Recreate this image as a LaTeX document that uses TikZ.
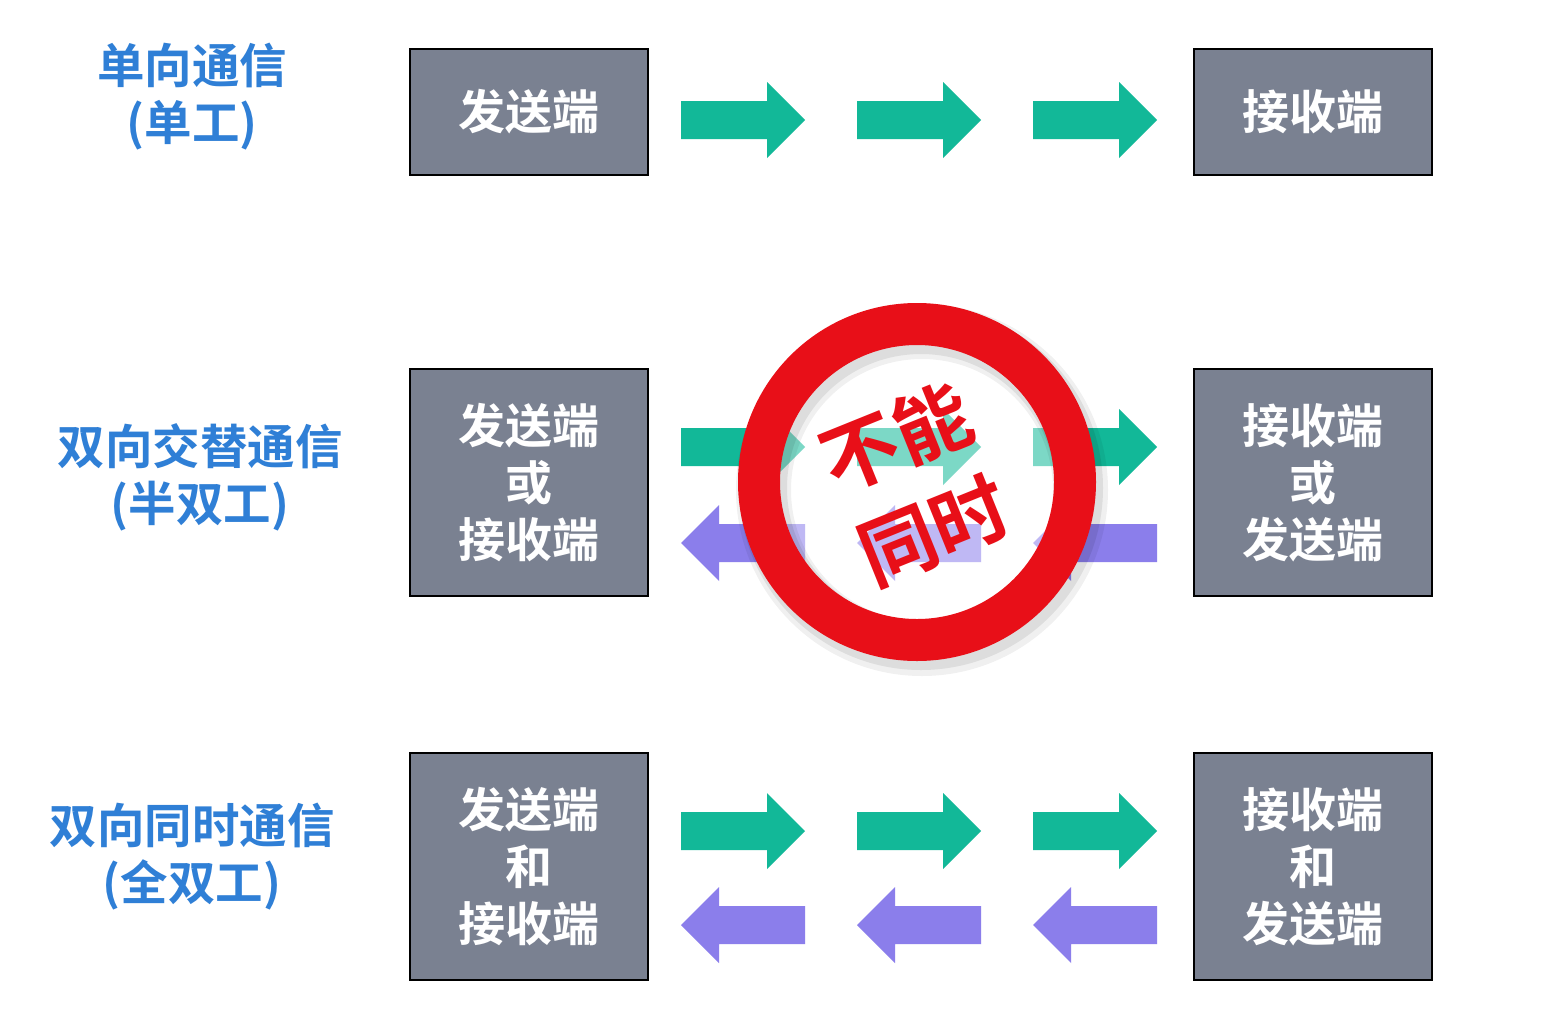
\documentclass[tikz,border=0pt]{standalone}
\usepackage{fontspec}
\newfontfamily\cjk[BoldFont={Noto Sans CJK SC Bold}]{Noto Sans CJK SC}
\definecolor{boxgray}{HTML}{7A8191}
\definecolor{arrgreen}{HTML}{12B898}
\definecolor{arrpurple}{HTML}{8B7EEB}
\definecolor{lblue}{HTML}{2F7FD6}
\definecolor{stopred}{HTML}{E80F18}
\newcommand\rarrow[2]{\fill[arrgreen] (#1,#2-19) -- ++(86,0) -- ++(0,-19) -- ++(38,38) -- ++(-38,38) -- ++(0,-19) -- ++(-86,0) -- cycle;}
\newcommand\larrow[2]{\fill[arrpurple] (#1,#2) -- ++(38,-38) -- ++(0,19) -- ++(86,0) -- ++(0,38) -- ++(-86,0) -- ++(0,19) -- cycle;}
\begin{document}
\begin{tikzpicture}[x=1pt,y=-1pt,
  termbox/.style={draw=black, line width=2.5pt, fill=boxgray, text=white, minimum width=238pt, inner sep=0pt,
    font=\cjk\bfseries\fontsize{47}{57}\selectfont, align=center},
  lbl/.style={text=lblue, inner sep=0pt, font=\cjk\bfseries\fontsize{47.5}{57}\selectfont, align=center},
  stoptext/.style={font=\cjk\bfseries\fontsize{77}{100}\selectfont, align=center, inner sep=0pt, rotate=22}]
\useasboundingbox[fill=white] (0,0) rectangle (1565,1020);

% labels
\node[lbl] (l1) at (192,97) {单向通信\\(单工)};
\node[lbl] (l2) at (200,477) {双向交替通信\\(半双工)};
\node[lbl] (l3) at (192,857) {双向同时通信\\(全双工)};

% boxes
\node[termbox, minimum height=126pt] (s1) at (529,112) {发送端};
\node[termbox, minimum height=126pt] (r1) at (1313,112) {接收端};
\node[termbox, minimum height=227pt] (s2) at (529,482.5) {发送端\\或\\接收端};
\node[termbox, minimum height=227pt] (r2) at (1313,482.5) {接收端\\或\\发送端};
\node[termbox, minimum height=227pt] (s3) at (529,866.5) {发送端\\和\\接收端};
\node[termbox, minimum height=227pt] (r3) at (1313,866.5) {接收端\\和\\发送端};

% arrows row 1
\rarrow{681}{120}\rarrow{857}{120}\rarrow{1033}{120}
% arrows row 2
\rarrow{681}{447}\rarrow{857}{447}\rarrow{1033}{447}
\larrow{681}{543}\larrow{857}{543}\larrow{1033}{543}
% arrows row 3
\rarrow{681}{831}\rarrow{857}{831}\rarrow{1033}{831}
\larrow{681}{925}\larrow{857}{925}\larrow{1033}{925}

% stop sign
\fill[white, opacity=0.45] (917,482) circle (140);
\fill[black, opacity=0.06, even odd rule] (922,490) circle (186) (922,490) circle (131);
\fill[black, opacity=0.08, even odd rule] (921,488) circle (182) (921,488) circle (134);
\fill[stopred, even odd rule] (917,482) circle (179) (917,482) circle (137);
\node[stoptext, text=stopred] (nt) at (915,484) {不能\\同时};
\end{tikzpicture}
\end{document}
